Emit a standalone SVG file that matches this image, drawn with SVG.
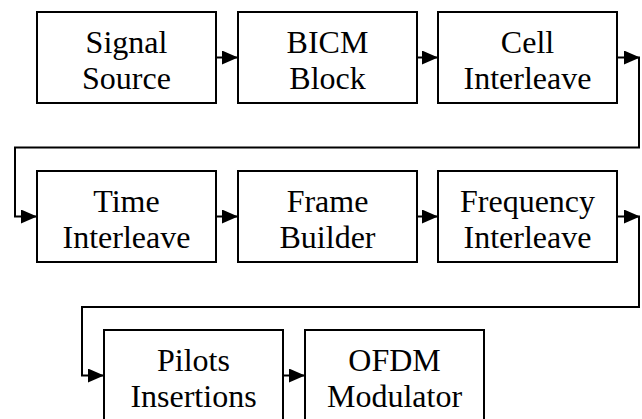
<svg xmlns="http://www.w3.org/2000/svg" width="642" height="419" viewBox="0 0 642 419">
<style>
.box{fill:#fff;stroke:#000;stroke-width:2}
.con{fill:none;stroke:#000;stroke-width:2}
</style>
<defs>
<marker id="arr" markerUnits="userSpaceOnUse" markerWidth="16" markerHeight="14" refX="16" refY="7" orient="auto">
<path d="M0,0 L16,7 L0,14 z" fill="#000"/>
</marker>
</defs>
<rect width="642" height="419" fill="#fff"/>
<g id="connectors">
<path class="con" d="M216,57.5 H238" marker-end="url(#arr)"/>
<path class="con" d="M417,57.5 H438" marker-end="url(#arr)"/>
<path class="con" d="M617,57.5 H640" marker-end="url(#arr)"/>
<path class="con" d="M639,57.5 V147.5 H15 V216.5 H37" marker-end="url(#arr)"/>
<path class="con" d="M216,216.5 H238" marker-end="url(#arr)"/>
<path class="con" d="M417,216.5 H438" marker-end="url(#arr)"/>
<path class="con" d="M617,216.5 H640" marker-end="url(#arr)"/>
<path class="con" d="M639,216.5 V307 H82 V375.5 H104" marker-end="url(#arr)"/>
<path class="con" d="M283,375.5 H305" marker-end="url(#arr)"/>
</g>
<g id="nodes" font-family="Liberation Serif, Times New Roman, serif" font-size="32" text-anchor="middle" fill="#000">
<g id="signal-source">
<rect class="box" x="37" y="12" width="179" height="91"/>
<text x="126.5" y="52.7">Signal</text>
<text x="126.5" y="88.5">Source</text>
</g>
<g id="bicm-block">
<rect class="box" x="238" y="12" width="179" height="91"/>
<text x="327.5" y="52.7">BICM</text>
<text x="327.5" y="88.5">Block</text>
</g>
<g id="cell-interleave">
<rect class="box" x="438" y="12" width="179" height="91"/>
<text x="527.5" y="52.7">Cell</text>
<text x="527.5" y="88.5">Interleave</text>
</g>
<g id="time-interleave">
<rect class="box" x="37" y="171" width="179" height="91"/>
<text x="126.5" y="211.7">Time</text>
<text x="126.5" y="247.5">Interleave</text>
</g>
<g id="frame-builder">
<rect class="box" x="238" y="171" width="179" height="91"/>
<text x="327.5" y="211.7">Frame</text>
<text x="327.5" y="247.5">Builder</text>
</g>
<g id="frequency-interleave">
<rect class="box" x="438" y="171" width="179" height="91"/>
<text x="527.5" y="211.7">Frequency</text>
<text x="527.5" y="247.5">Interleave</text>
</g>
<g id="pilots-insertions">
<rect class="box" x="104" y="330" width="179" height="91"/>
<text x="193.5" y="370.7">Pilots</text>
<text x="193.5" y="406.5">Insertions</text>
</g>
<g id="ofdm-modulator">
<rect class="box" x="305" y="330" width="179" height="91"/>
<text x="394.5" y="370.7">OFDM</text>
<text x="394.5" y="406.5">Modulator</text>
</g>
</g>
</svg>
